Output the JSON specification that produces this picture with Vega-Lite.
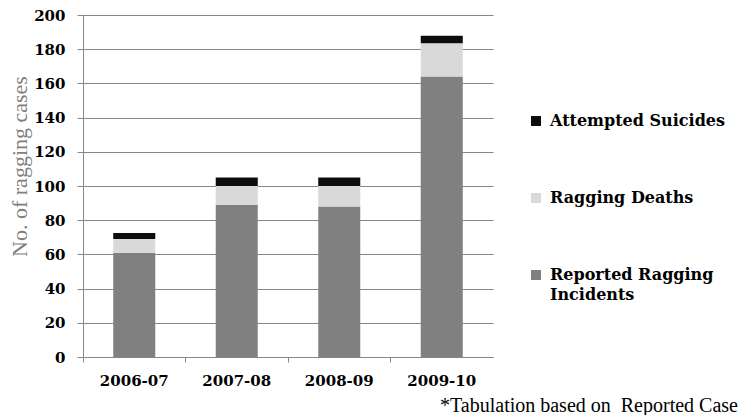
{
  "$schema": "https://vega.github.io/schema/vega-lite/v6.json",
  "width": 410,
  "height": 342,
  "autosize": {"type": "none"},
  "padding": {"left": 83, "top": 15, "right": 247, "bottom": 58},
  "background": "white",
  "config": {
    "view": {"stroke": null},
    "style": {"guide-label": {"lineHeight": 20}}
  },
  "title": {
    "text": "*Tabulation based on\u00a0\u00a0Reported Case",
    "orient": "bottom",
    "anchor": "start",
    "frame": "group",
    "dx": 357,
    "offset": 8,
    "font": "Liberation Serif",
    "fontSize": 20,
    "fontWeight": "normal",
    "color": "black"
  },
  "data": {
    "values": [
      {"year": "2006-07", "category": "Reported Ragging Incidents", "value": 61, "o": 1},
      {"year": "2006-07", "category": "Ragging Deaths", "value": 8, "o": 2},
      {"year": "2006-07", "category": "Attempted Suicides", "value": 3.5, "o": 3},
      {"year": "2007-08", "category": "Reported Ragging Incidents", "value": 89, "o": 1},
      {"year": "2007-08", "category": "Ragging Deaths", "value": 11, "o": 2},
      {"year": "2007-08", "category": "Attempted Suicides", "value": 5, "o": 3},
      {"year": "2008-09", "category": "Reported Ragging Incidents", "value": 88, "o": 1},
      {"year": "2008-09", "category": "Ragging Deaths", "value": 12, "o": 2},
      {"year": "2008-09", "category": "Attempted Suicides", "value": 5, "o": 3},
      {"year": "2009-10", "category": "Reported Ragging Incidents", "value": 164, "o": 1},
      {"year": "2009-10", "category": "Ragging Deaths", "value": 19.5, "o": 2},
      {"year": "2009-10", "category": "Attempted Suicides", "value": 4.3, "o": 3}
    ]
  },
  "mark": {"type": "bar", "width": {"band": 0.41}},
  "encoding": {
    "x": {
      "field": "year",
      "type": "ordinal",
      "scale": {"paddingInner": 0, "paddingOuter": 0},
      "axis": {
        "title": null,
        "labelAngle": 0,
        "labelFont": "DejaVu Serif",
        "labelFontWeight": "bold",
        "labelFontSize": 15,
        "labelColor": "black",
        "labelPadding": 11,
        "tickSize": 5,
        "tickColor": "#868686",
        "domainColor": "#868686",
        "bandPosition": 0,
        "grid": false
      }
    },
    "y": {
      "field": "value",
      "type": "quantitative",
      "stack": "zero",
      "scale": {"domain": [0, 200], "nice": false},
      "axis": {
        "title": "No. of ragging cases",
        "titleFont": "Liberation Serif",
        "titleFontSize": 22,
        "titleFontWeight": "normal",
        "titleColor": "#7f7f7f",
        "titleAngle": -90,
        "titleX": -64,
        "titleY": 151,
        "titleAlign": "center",
        "titleBaseline": "middle",
        "values": [0, 20, 40, 60, 80, 100, 120, 140, 160, 180, 200],
        "labelFont": "DejaVu Serif",
        "labelFontWeight": "bold",
        "labelFontSize": 15,
        "labelColor": "black",
        "labelPadding": 12,
        "tickSize": 6,
        "tickColor": "#868686",
        "domainColor": "#868686",
        "grid": true,
        "gridColor": "#868686",
        "gridOpacity": 1
      }
    },
    "color": {
      "field": "category",
      "type": "nominal",
      "scale": {
        "domain": ["Attempted Suicides", "Ragging Deaths", "Reported Ragging Incidents"],
        "range": ["#0d0d0d", "#d9d9d9", "#808080"]
      },
      "legend": {
        "title": null,
        "orient": "none",
        "legendX": 445,
        "legendY": 98,
        "symbolType": "square",
        "symbolSize": 100,
        "symbolStrokeWidth": 0,
        "labelFont": "DejaVu Serif",
        "labelFontWeight": "bold",
        "labelFontSize": 16,
        "labelColor": "black",
        "labelOffset": 6,
        "labelLimit": 300,
        "rowPadding": 61,
        "labelExpr": "datum.label == 'Reported Ragging Incidents' ? ['Reported Ragging', 'Incidents'] : datum.label"
      }
    },
    "order": {"field": "o", "type": "quantitative"}
  }
}
